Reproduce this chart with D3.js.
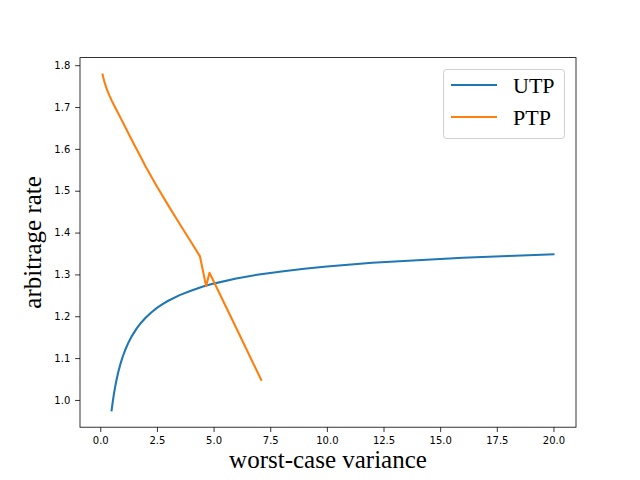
<!DOCTYPE html>
<html><head><meta charset="utf-8">
<script src="https://cdn.jsdelivr.net/npm/d3@7"></script>
<style>body{margin:0;background:#fff}</style>
</head><body>
<svg id="c" width="640" height="480"></svg>
<script>
const utpX = [0.5,0.55,0.6,0.65,0.7,0.75,0.8,0.9,1.0,1.1,1.25,1.4,1.6,1.8,2,2.25,2.5,2.75,3,3.5,4,4.5,5,6,7,8,9,10,12,14,16,18,20];
const utpY = [0.975,0.9955,1.0135,1.0294,1.0435,1.0562,1.068,1.088,1.105,1.1193,1.138,1.1532,1.1703,1.1845,1.1965,1.2091,1.220,1.2291,1.237,1.2505,1.261,1.2703,1.278,1.290,1.300,1.307,1.3136,1.319,1.328,1.334,1.340,1.344,1.348];
const ptpX = [0.1,0.15,0.2,0.3,0.4,0.5,0.6,0.7,0.8,0.9,1.0,1.15,1.3,1.5,1.75,2.0,2.5,3.0,3.5,4.0,4.4,4.67,4.82,6.0,7.1];
const ptpY = [1.778,1.767,1.757,1.741,1.728,1.716,1.705,1.6945,1.684,1.6735,1.663,1.647,1.631,1.610,1.584,1.558,1.510,1.465,1.421,1.378,1.343,1.272,1.304,1.172,1.048];
const xTicks = [0,2.5,5,7.5,10,12.5,15,17.5,20];
const yTicks = [1.0,1.1,1.2,1.3,1.4,1.5,1.6,1.7,1.8];
const seriesNames = ["UTP","PTP"];
const colors = ["#1f77b4","#ff7f0e"];

const svg = d3.select("#c");
const L=80,R=576,T=57.6,B=427.2;
const allX = utpX.concat(ptpX), allY = utpY.concat(ptpY);
const xmin=d3.min(allX), xmax=d3.max(allX), ymin=d3.min(allY), ymax=d3.max(allY);
const xm=(xmax-xmin)*0.05, ym=(ymax-ymin)*0.05;
const x = d3.scaleLinear().domain([xmin-xm,xmax+xm]).range([L,R]);
const y = d3.scaleLinear().domain([ymin-ym,ymax+ym]).range([B,T]);

const line = d3.line().x(d=>x(d[0])).y(d=>y(d[1]));
const data = [d3.zip(utpX,utpY), d3.zip(ptpX,ptpY)];
data.forEach((d,i)=>{
  svg.append("path").attr("d",line(d)).attr("fill","none").attr("stroke",colors[i])
    .attr("stroke-width",2.08).attr("stroke-linejoin","round").attr("stroke-linecap","square");
});

const xa = svg.append("g").attr("transform",`translate(0,${B})`)
  .call(d3.axisBottom(x).tickValues(xTicks).tickFormat(d3.format(".1f")).tickSize(4.86).tickPadding(4.9));
const ya = svg.append("g").attr("transform",`translate(${L},0)`)
  .call(d3.axisLeft(y).tickValues(yTicks).tickFormat(d3.format(".1f")).tickSize(4.86).tickPadding(4.9));
[xa,ya].forEach(a=>{
  a.select(".domain").remove();
  a.selectAll("line").attr("stroke","#000").attr("stroke-width",0.8);
  a.selectAll("text").attr("font-family","DejaVu Sans").attr("font-size",10).attr("fill","#000");
});
svg.append("rect").attr("x",L).attr("y",T).attr("width",R-L).attr("height",B-T)
  .attr("fill","none").attr("stroke","#000").attr("stroke-width",0.8);

svg.append("text").attr("x",(L+R)/2).attr("y",468).attr("text-anchor","middle")
  .attr("font-family","Liberation Serif").attr("font-size",25).text("worst-case variance");
svg.append("text").attr("transform",`translate(41,${(T+B)/2}) rotate(-90)`).attr("text-anchor","middle")
  .attr("font-family","Liberation Serif").attr("font-size",25).text("arbitrage rate");

const lg = svg.append("g");
lg.append("rect").attr("x",443.5).attr("y",69.5).attr("width",121).attr("height",69).attr("rx",3)
  .attr("fill","#fff").attr("fill-opacity",0.8).attr("stroke","#d0d0d0").attr("stroke-width",1);
seriesNames.forEach((n,i)=>{
  const yy = 85 + i*32;
  lg.append("line").attr("x1",451).attr("x2",497).attr("y1",yy).attr("y2",yy)
    .attr("stroke",colors[i]).attr("stroke-width",2.08);
  lg.append("text").attr("x",513).attr("y",yy+8).attr("font-family","Liberation Serif")
    .attr("font-size",22).text(n);
});
</script>
</body></html>
